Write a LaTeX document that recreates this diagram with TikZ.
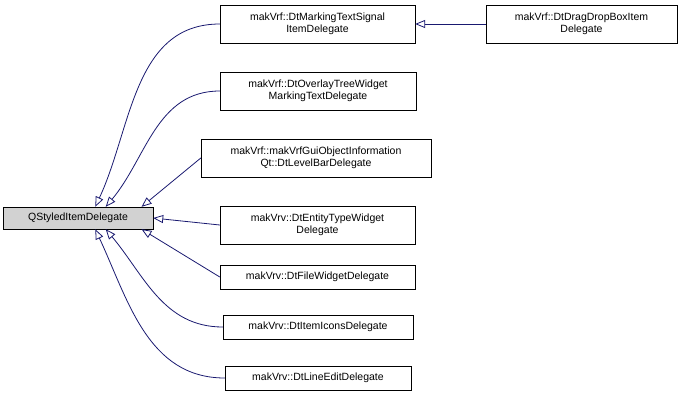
\documentclass[tikz,border=0pt]{standalone}
\usepackage{fontspec}
\setmainfont{Liberation Sans}
\usetikzlibrary{arrows.meta}
\definecolor{edgeblue}{HTML}{191970}
\tikzset{
  cls/.style={draw=black, fill=white, align=center, inner sep=0pt, font=\fontsize{10.5}{12.5}\selectfont, minimum height=24pt},
  cls2/.style={cls, minimum height=38pt},
  inh/.style={draw=edgeblue, line width=0.8pt, -{Triangle[open, length=10pt, width=8pt]}}
}
\begin{document}
\begin{tikzpicture}[x=1pt, y=-1pt]
  \useasboundingbox (0,0) rectangle (683,400);
  % ---base class
  \node[cls, fill=gray!35, minimum width=150pt, minimum height=22pt] (root) at (78,218) {QStyledItemDelegate};

  % ---derived classes
  \node[cls2, minimum width=195pt] (sig) at (317.5,24) {makVrf::DtMarkingTextSignal\\ItemDelegate};
  \node[cls2, minimum width=191pt] (drag) at (581.5,24) {makVrf::DtDragDropBoxItem\\Delegate};
  \node[cls2, minimum width=196pt] (over) at (318,91) {makVrf::DtOverlayTreeWidget\\MarkingTextDelegate};
  \node[cls2, minimum width=230pt] (lvl) at (316,158) {makVrf::makVrfGuiObjectInformation\\Qt::DtLevelBarDelegate};
  \node[cls2, minimum width=195pt] (ent) at (317.5,225) {makVrv::DtEntityTypeWidget\\Delegate};
  \node[cls, minimum width=195pt] (file) at (317.5,277) {makVrv::DtFileWidgetDelegate};
  \node[cls, minimum width=190pt] (icon) at (318,327) {makVrv::DtItemIconsDelegate};
  \node[cls, minimum width=186pt] (line) at (318,378) {makVrv::DtLineEditDelegate};

  % ---inheritance
  \draw[inh] (drag.west) -- (sig.east);
  \draw[inh] (sig.west) to[out=180, in=65] (root.33);
  \draw[inh] (over.west) to[out=180, in=50] (root.22);
  \draw[inh] (lvl.west) -- (root.10);
  \draw[inh] (ent.west) -- (root.0);
  \draw[inh] (file.west) -- (root.-10);
  \draw[inh] (icon.west) to[out=180, in=-50] (root.-22);
  \draw[inh] (line.west) to[out=180, in=-65] (root.-33);
\end{tikzpicture}
\end{document}
